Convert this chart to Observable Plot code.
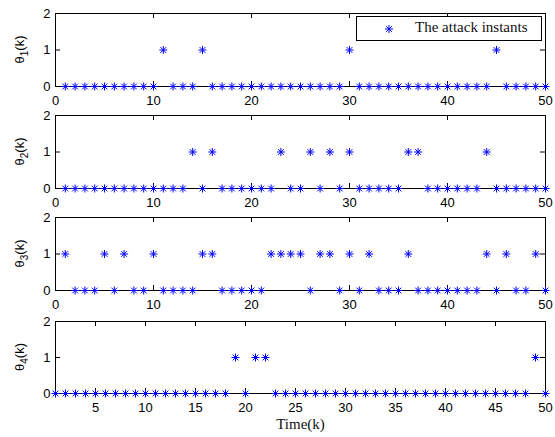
<!DOCTYPE html>
<html>
<head>
<meta charset="utf-8">
<script src="https://cdn.jsdelivr.net/npm/d3@7"></script>
<script src="https://cdn.jsdelivr.net/npm/@observablehq/plot@0.6"></script>
<style>
  body { margin: 0; background: #fff; }
  #chart { position: relative; width: 555px; height: 437px; background: #fff; overflow: hidden; }
  #chart svg.panel { position: absolute; left: 0; }
  #legend { position: absolute; left: 356px; top: 16px; width: 186px; height: 25px; border: 1px solid #000; background: #fff;
            box-sizing: border-box; font-family: "Liberation Serif", "Times New Roman", serif; font-size: 15px; color: #111; }
  #legend svg { position: absolute; left: 26px; top: 6px; }
  #legend span { position: absolute; left: 58px; top: 2px; white-space: nowrap; }
</style>
</head>
<body>
<div id="chart"></div>
<script>
// ---- data ----
const timeK = [1,2,3,4,5,6,7,8,9,10,11,12,13,14,15,16,17,18,19,20,21,22,23,24,25,
               26,27,28,29,30,31,32,33,34,35,36,37,38,39,40,41,42,43,44,45,46,47,48,49,50];
const theta1 = [0,0,0,0,0,0,0,0,0,0, 1,0,0,0,1,0,0,0,0,0, 0,0,0,0,0,0,0,0,0,1, 0,0,0,0,0,0,0,0,0,0, 0,0,0,0,1,0,0,0,0,0];
const theta2 = [0,0,0,0,0,0,0,0,0,0, 0,0,0,1,0,1,0,0,0,0, 0,0,1,0,0,1,0,1,0,1, 0,0,0,0,0,1,1,0,0,0, 0,0,0,1,0,0,0,0,0,0];
const theta3 = [1,0,0,0,1,0,1,0,0,1, 0,0,0,0,1,1,0,0,0,0, 0,1,1,1,1,0,1,1,0,1, 0,1,0,0,0,1,0,0,0,0, 0,0,0,1,0,1,0,0,1,0];
const theta4 = [0,0,0,0,0,0,0,0,0,0, 0,0,0,0,0,0,0,0,1,0, 1,1,0,0,0,0,0,0,0,0, 0,0,0,0,0,0,0,0,0,0, 0,0,0,0,0,0,0,0,1,0];
const seriesNames = ["1", "2", "3", "4"];
const xTicksUpper = [0, 10, 20, 30, 40, 50];
const xTicksLower = [5, 10, 15, 20, 25, 30, 35, 40, 45, 50];
const xDomainUpper = [0, 50];
const xDomainLower = [1, 50];
const yTicks = [0, 1, 2];
const legendLabel = "The attack instants";
const xLabel = "Time(k)";

// ---- layout ----
const W = 555, ML = 55, MR = 10, MT = 13;
const panels = [
  {vals: theta1, name: seriesNames[0], top: 0,   ph: 73, xd: xDomainUpper, xt: xTicksUpper, mb: 40},
  {vals: theta2, name: seriesNames[1], top: 102, ph: 73, xd: xDomainUpper, xt: xTicksUpper, mb: 40},
  {vals: theta3, name: seriesNames[2], top: 204, ph: 73, xd: xDomainUpper, xt: xTicksUpper, mb: 40},
  {vals: theta4, name: seriesNames[3], top: 308, ph: 72, xd: xDomainLower, xt: xTicksLower, mb: 44, xlabel: true}
];
const blue = "#0000ff";
const chart = document.getElementById("chart");

panels.forEach(p => {
  const data = timeK.map((t, i) => ({k: t, v: p.vals[i]}));
  const innerW = W - ML - MR;
  const tx = (p.xd[1] - p.xd[0]) * 5 / innerW;
  const ty = 2 * 5 / p.ph;
  const marks = [
    Plot.ruleX(p.xt, {x: d => d, y1: 0, y2: ty, stroke: "#000", strokeWidth: 1}),
    Plot.ruleX(p.xt, {x: d => d, y1: 2 - ty, y2: 2, stroke: "#000", strokeWidth: 1}),
    Plot.ruleY(yTicks, {y: d => d, x1: p.xd[0], x2: p.xd[0] + tx, stroke: "#000", strokeWidth: 1}),
    Plot.ruleY(yTicks, {y: d => d, x1: p.xd[1] - tx, x2: p.xd[1], stroke: "#000", strokeWidth: 1}),
    Plot.frame({stroke: "#000", strokeWidth: 1}),
    Plot.dot(data, {x: "k", y: "v", symbol: "plus", r: 2.7, stroke: blue, strokeWidth: 1}),
    Plot.dot(data, {x: "k", y: "v", symbol: "times", r: 2.7, stroke: blue, strokeWidth: 1})
  ];
  if (p.xlabel) {
    marks.push(Plot.text([xLabel], {frameAnchor: "bottom", dy: 35, text: d => d,
      fontFamily: "'Liberation Serif', 'Times New Roman', serif", fontSize: 15, fill: "#111"}));
  }
  const svg = Plot.plot({
    width: W, height: MT + p.ph + p.mb,
    marginLeft: ML, marginRight: MR, marginTop: MT, marginBottom: p.mb,
    style: {background: "transparent", overflow: "visible", fontFamily: "'Liberation Sans', Arial, sans-serif",
            fontSize: "13px", color: "#000"},
    x: {domain: p.xd, ticks: p.xt, tickSize: 0, tickPadding: 9, label: null, tickFormat: d => String(d)},
    y: {domain: [0, 2], ticks: yTicks, tickSize: 0, tickPadding: 5, label: null, tickFormat: d => String(d)},
    marks
  });
  svg.classList.add("panel");
  svg.style.top = p.top + "px";
  // y-axis label θ_i(k) with subscript
  const cy = MT + p.ph / 2;
  const t = d3.select(svg).append("text")
    .attr("transform", `translate(24,${cy}) rotate(-90)`)
    .attr("text-anchor", "middle")
    .attr("font-family", "'Liberation Sans', Arial, sans-serif")
    .attr("font-size", 13)
    .attr("fill", "#000");
  t.append("tspan").text("θ");
  t.append("tspan").attr("font-size", 10).attr("dy", 4).text(p.name);
  t.append("tspan").attr("dy", -4).text("(k)");
  chart.appendChild(svg);
});

// legend
const leg = document.createElement("div");
leg.id = "legend";
const ls = d3.create("svg").attr("width", 12).attr("height", 12);
const g = ls.append("g").attr("transform", "translate(6,6)")
  .attr("fill", "none").attr("stroke", blue).attr("stroke-width", 1);
const S = Math.PI * 2.7 * 2.7;
g.append("path").attr("d", d3.symbol(d3.symbolPlus, S)());
g.append("path").attr("d", d3.symbol(d3.symbolTimes, S)());
leg.appendChild(ls.node());
const sp = document.createElement("span");
sp.textContent = legendLabel;
leg.appendChild(sp);
chart.appendChild(leg);
</script>
</body>
</html>
